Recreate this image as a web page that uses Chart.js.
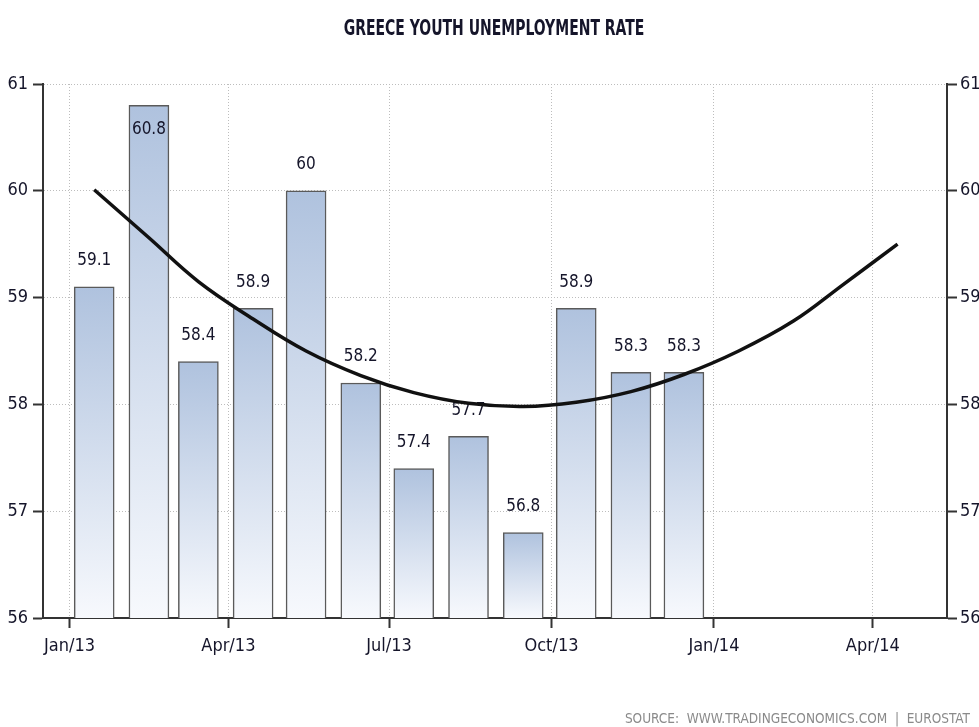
<!DOCTYPE html>
<html>
<head>
<meta charset="utf-8">
<title>Greece Youth Unemployment Rate</title>
<script src="https://cdn.jsdelivr.net/npm/chart.js@4.4.1/dist/chart.umd.min.js"></script>
<style>
    html, body { margin: 0; padding: 0; background: #ffffff; }
    #wrap { width: 979px; height: 727px; }
</style>
</head>
<body>
<div id="wrap"><canvas id="youthChart" width="979" height="727"></canvas></div>
<script>
// monthly youth unemployment, Eurostat
const barMonths = ["Jan/13", "Feb/13", "Mar/13", "Apr/13", "May/13", "Jun/13",
                   "Jul/13", "Aug/13", "Sep/13", "Oct/13", "Nov/13", "Dec/13"];
const youthRate = [59.1, 60.8, 58.4, 58.9, 60.0, 58.2, 57.4, 57.7, 56.8, 58.9, 58.3, 58.3];

// trend curve, one point per month
const trendMonths = ["Jan/13", "Feb/13", "Mar/13", "Apr/13", "May/13", "Jun/13",
                     "Jul/13", "Aug/13", "Sep/13", "Oct/13", "Nov/13", "Dec/13",
                     "Jan/14", "Feb/14", "Mar/14", "Apr/14"];
const trendValues = [60.01, 59.56, 59.15, 58.80, 58.50, 58.27, 58.11, 58.01,
                     57.98, 58.02, 58.12, 58.28, 58.50, 58.78, 59.12, 59.50];

const tickLabels = ["Jan/13", "Apr/13", "Jul/13", "Oct/13", "Jan/14", "Apr/14"];
const yTicks = [56, 57, 58, 59, 60, 61];

const monthNames = ["Jan", "Feb", "Mar", "Apr", "May", "Jun", "Jul", "Aug", "Sep", "Oct", "Nov", "Dec"];
const origin = Date.UTC(2013, 0, 1);

// "Apr/13" -> days since 1 Jan 2013
function dayOf(label, day) {
    let parts = label.split("/");
    let m = monthNames.indexOf(parts[0]);
    let y = 2000 + parseInt(parts[1], 10);
    return (Date.UTC(y, m, day) - origin) / 86400000;
}

const FONT = "'Liberation Sans Narrow', 'DejaVu Sans Condensed', 'Liberation Sans', sans-serif";
const AXIS = "#333333";
const INK = "#15152a";

let barPoints = barMonths.map((m, i) => ({ x: dayOf(m, 15), y: youthRate[i] }));
let trendPoints = trendMonths.map((m, i) => ({ x: dayOf(m, 15), y: trendValues[i] }));

const textPlugin = {
    id: "texts",
    afterDatasetDraw(chart, args) {
        if (args.index !== 1) return;
        let ctx = chart.ctx;
        let meta = chart.getDatasetMeta(1);
        ctx.save();
        ctx.font = "17px " + FONT;
        ctx.fillStyle = INK;
        ctx.textAlign = "center";
        ctx.textBaseline = "middle";
        meta.data.forEach((bar, i) => {
            let y = bar.y - 26;
            if (y < chart.chartArea.top + 10) y = bar.y + 24;
            ctx.fillText(String(youthRate[i]), bar.x, y);
        });
        ctx.restore();
    },
    afterDraw(chart) {
        let ctx = chart.ctx;
        ctx.save();
        ctx.fillStyle = INK;
        ctx.font = "bold 21px " + FONT;
        ctx.textAlign = "center";
        ctx.textBaseline = "middle";
        // the original title font is much narrower
        ctx.translate(494, 30);
        ctx.scale(0.74, 1);
        ctx.fillText("GREECE YOUTH UNEMPLOYMENT RATE", 0, 0);
        ctx.restore();

        ctx.save();
        ctx.fillStyle = "#8a8a8a";
        ctx.font = "13.5px " + FONT;
        ctx.textAlign = "right";
        ctx.textBaseline = "middle";
        ctx.fillText("SOURCE:  WWW.TRADINGECONOMICS.COM  |  EUROSTAT", 970, 719);
        ctx.restore();
    }
};

let ctx = document.getElementById("youthChart").getContext("2d");

new Chart(ctx, {
    type: "bar",
    data: {
        datasets: [{
            type: "line",
            data: trendPoints,
            borderColor: "#111111",
            borderWidth: 3.5,
            pointRadius: 0,
            tension: 0.4,
            fill: false,
            order: 0
        }, {
            type: "bar",
            data: barPoints,
            barThickness: 40,
            borderColor: "#5a5a5a",
            borderWidth: 1.5,
            borderSkipped: false,
            order: 1,
            backgroundColor: function (c) {
                let area = c.chart.chartArea;
                if (!area || c.type !== "data") return "#c3d1e6";
                let top = c.chart.scales.y.getPixelForValue(c.raw.y);
                let g = c.chart.ctx.createLinearGradient(0, top, 0, area.bottom);
                g.addColorStop(0, "#afc2de");
                g.addColorStop(1, "#f7f9fd");
                return g;
            }
        }]
    },
    options: {
        responsive: false,
        animation: false,
        layout: { padding: { top: 84, left: 0, right: 0, bottom: 0 } },
        plugins: {
            legend: { display: false },
            tooltip: { enabled: false }
        },
        scales: {
            x: {
                type: "linear",
                min: -15,
                max: 497,
                offset: false,
                afterFit: s => { s.height = 109; },
                afterBuildTicks: s => { s.ticks = tickLabels.map(t => ({ value: dayOf(t, 1) })); },
                ticks: {
                    color: INK,
                    font: { family: FONT, size: 18 },
                    padding: 8,
                    maxRotation: 0,
                    autoSkip: false,
                    callback: function (v) {
                        let i = tickLabels.findIndex(t => dayOf(t, 1) === v);
                        return i >= 0 ? tickLabels[i] : "";
                    }
                },
                grid: {
                    offset: false,
                    color: "#bdbdbd",
                    lineWidth: 1,
                    tickLength: 10,
                    tickColor: AXIS,
                    tickWidth: 2
                },
                border: { color: AXIS, width: 2, dash: [1, 2] }
            },
            y: {
                position: "left",
                min: 56,
                max: 61,
                afterFit: s => { s.width = 43; },
                afterBuildTicks: s => { s.ticks = yTicks.map(v => ({ value: v })); },
                ticks: {
                    color: INK,
                    font: { family: FONT, size: 18 },
                    padding: 5
                },
                grid: {
                    color: "#bdbdbd",
                    lineWidth: 1,
                    tickLength: 10,
                    tickColor: AXIS,
                    tickWidth: 2
                },
                border: { color: AXIS, width: 2, dash: [1, 2] }
            },
            y2: {
                position: "right",
                min: 56,
                max: 61,
                afterFit: s => { s.width = 32; },
                afterBuildTicks: s => { s.ticks = yTicks.map(v => ({ value: v })); },
                ticks: {
                    color: INK,
                    font: { family: FONT, size: 18 },
                    padding: 3
                },
                grid: {
                    drawOnChartArea: false,
                    tickLength: 10,
                    tickColor: AXIS,
                    tickWidth: 2
                },
                border: { color: AXIS, width: 2 }
            }
        }
    },
    plugins: [textPlugin]
});
</script>
</body>
</html>
